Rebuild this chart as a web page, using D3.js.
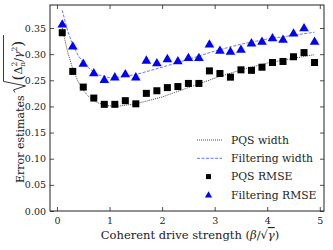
<!DOCTYPE html>
<html>
<head>
<meta charset="utf-8">
<script src="https://cdn.jsdelivr.net/npm/d3@7"></script>
<style>
  body { margin: 0; background: #fff; }
  text { font-family: "DejaVu Serif", "Liberation Serif", serif; fill: #222; }
</style>
</head>
<body>
<div id="chart"></div>
<script>
// sample points (beta / sqrt(gamma))
var rmseX = [0.1, 0.3, 0.5, 0.7, 0.9, 1.1, 1.3, 1.5, 1.7, 1.9, 2.1, 2.3, 2.5, 2.7, 2.9,
             3.1, 3.3, 3.5, 3.7, 3.9, 4.1, 4.3, 4.5, 4.7, 4.9];
var pqsRmse = [0.341, 0.267, 0.237, 0.216, 0.204, 0.204, 0.211, 0.205, 0.225, 0.230, 0.236,
               0.238, 0.244, 0.244, 0.268, 0.263, 0.256, 0.270, 0.269, 0.275, 0.284, 0.286,
               0.295, 0.303, 0.284];
var filtRmse = [0.357, 0.315, 0.282, 0.264, 0.251, 0.256, 0.262, 0.256, 0.288, 0.283, 0.291,
                0.287, 0.293, 0.293, 0.319, 0.307, 0.305, 0.309, 0.321, 0.324, 0.331, 0.328,
                0.340, 0.350, 0.324];

// widths (curves)
var widthX = [0.1, 0.2, 0.3, 0.4, 0.5, 0.6, 0.7, 0.8, 1.0, 1.2, 1.5, 2.0, 2.5, 3.0, 3.5, 4.0, 4.5, 4.9];
var pqsWidth = [0.350, 0.305, 0.272, 0.248, 0.231, 0.219, 0.211, 0.206, 0.201, 0.201, 0.205,
                0.218, 0.236, 0.254, 0.270, 0.283, 0.292, 0.299];
var filtWidth = [0.384, 0.345, 0.318, 0.298, 0.284, 0.274, 0.266, 0.260, 0.255, 0.256, 0.261,
                 0.275, 0.290, 0.306, 0.319, 0.329, 0.336, 0.342];

var xTicks = [0, 1, 2, 3, 4, 5];
var yTicks = [0.00, 0.05, 0.10, 0.15, 0.20, 0.25, 0.30, 0.35];

var W = 333, H = 250;
var margin = {top: 5, right: 9, bottom: 39, left: 50};
var width = W - margin.left - margin.right,
    height = H - margin.top - margin.bottom;

var svg = d3.select("#chart").append("svg")
    .attr("width", W).attr("height", H);
var g = svg.append("g")
    .attr("transform", "translate(" + margin.left + "," + margin.top + ")");

var x = d3.scaleLinear().domain([-0.133, 5.08]).range([0, width]);
var y = d3.scaleLinear().domain([0, 0.394]).range([height, 0]);

// axes, ticks pointing inward on every side
function styleAxis(sel) {
  sel.select(".domain").remove();
  sel.selectAll(".tick line").attr("stroke", "#222").attr("stroke-width", 0.8);
  sel.selectAll(".tick text").style("font-size", "9.5px").attr("fill", "#222");
}
g.append("g").attr("transform", "translate(0," + height + ")")
  .call(d3.axisBottom(x).tickValues(xTicks).tickSizeInner(-4).tickPadding(6).tickFormat(d3.format("d")))
  .call(styleAxis);
g.append("g")
  .call(d3.axisTop(x).tickValues(xTicks).tickSizeInner(-4).tickFormat(""))
  .call(styleAxis);
g.append("g")
  .call(d3.axisLeft(y).tickValues(yTicks).tickSizeInner(-4).tickPadding(4).tickFormat(d3.format(".2f")))
  .call(styleAxis);
g.append("g").attr("transform", "translate(" + width + ",0)")
  .call(d3.axisRight(y).tickValues(yTicks).tickSizeInner(-4).tickFormat(""))
  .call(styleAxis);

g.append("rect").attr("width", width).attr("height", height)
  .attr("fill", "none").attr("stroke", "#222").attr("stroke-width", 1);

// curves
var line = d3.line().x(function(d) { return x(d[0]); }).y(function(d) { return y(d[1]); });
g.append("path").datum(d3.zip(widthX, pqsWidth))
  .attr("d", line).attr("fill", "none")
  .attr("stroke", "#333").attr("stroke-width", 0.9).attr("stroke-dasharray", "1,1");
g.append("path").datum(d3.zip(widthX, filtWidth))
  .attr("d", line).attr("fill", "none")
  .attr("stroke", "#6060ff").attr("stroke-width", 0.9).attr("stroke-dasharray", "3,1.5");

// markers
g.selectAll(".sq").data(d3.zip(rmseX, pqsRmse)).enter().append("rect")
  .attr("x", function(d) { return x(d[0]) - 3.5; })
  .attr("y", function(d) { return y(d[1]) - 3.5; })
  .attr("width", 7).attr("height", 7).attr("fill", "#000");
var tri = d3.symbol().type(d3.symbolTriangle).size(40);
g.selectAll(".tri").data(d3.zip(rmseX, filtRmse)).enter().append("path")
  .attr("d", tri)
  .attr("transform", function(d) { return "translate(" + x(d[0]) + "," + (y(d[1]) + 0.5) + ")"; })
  .attr("fill", "#0000ff");

// legend
var leg = [
  {label: "PQS width", type: "dot"},
  {label: "Filtering width", type: "dash"},
  {label: "PQS RMSE", type: "sq"},
  {label: "Filtering RMSE", type: "tri"}
];
var lg = svg.append("g").attr("transform", "translate(197,140)");
leg.forEach(function(d, i) {
  var yy = i * 18.3;
  if (d.type === "dot") {
    lg.append("line").attr("x1", 0).attr("x2", 25).attr("y1", yy).attr("y2", yy)
      .attr("stroke", "#333").attr("stroke-width", 0.9).attr("stroke-dasharray", "1,1");
  } else if (d.type === "dash") {
    lg.append("line").attr("x1", 0).attr("x2", 25).attr("y1", yy).attr("y2", yy)
      .attr("stroke", "#6060ff").attr("stroke-width", 0.9).attr("stroke-dasharray", "3,1.5");
  } else if (d.type === "sq") {
    lg.append("rect").attr("x", 9).attr("y", yy - 2.5).attr("width", 5).attr("height", 5).attr("fill", "#000");
  } else {
    lg.append("path").attr("d", d3.symbol().type(d3.symbolTriangle).size(22))
      .attr("transform", "translate(11.5," + (yy + 0.5) + ")").attr("fill", "#0000ff");
  }
  lg.append("text").attr("x", 34).attr("y", yy).attr("dy", "0.35em")
    .style("font-size", "10.8px").text(d.label);
});

// x label
svg.append("text")
  .attr("x", 190).attr("y", 239)
  .attr("text-anchor", "middle").style("font-size", "11.5px")
  .html("Coherent drive strength (<tspan font-style='italic'>β</tspan>/√<tspan font-style='italic' text-decoration='overline'>γ</tspan>)");

// y label: "Error estimates" + drawn radical over (Δn²/γ²)
var yl = svg.append("g").attr("transform", "translate(24,183) rotate(-90)");
var t1 = yl.append("text").attr("x", 0).attr("y", 0).style("font-size", "11px").text("Error estimates");
var u0 = t1.node().getComputedTextLength() + 3;
var rt = yl.append("text").attr("x", u0 + 12).attr("y", -2).style("font-size", "11px");
rt.append("tspan").style("font-size", "15px").attr("dy", 1).text("(");
rt.append("tspan").attr("dy", -1).text("Δ");
rt.append("tspan").style("font-size", "7.5px").attr("dy", -5).text("2");
rt.append("tspan").style("font-size", "7.5px").attr("dx", -4.8).attr("dy", 8).text("n");
rt.append("tspan").attr("dy", -3).text("/");
rt.append("tspan").style("font-style", "italic").text("γ");
rt.append("tspan").style("font-size", "7.5px").attr("dy", -5).text("2");
rt.append("tspan").style("font-size", "15px").attr("dy", 6).text(")");
var uEnd = u0 + 12 + rt.node().getComputedTextLength() + 1;
yl.append("path")
  .attr("d", "M" + u0 + ",-9 L" + (u0 + 2.5) + ",-10.5 L" + (u0 + 6.5) + ",1.5 L" +
        (u0 + 11) + ",-20.5 L" + uEnd + ",-20.5")
  .attr("fill", "none").attr("stroke", "#222").attr("stroke-width", 0.9);
</script>
</body>
</html>
